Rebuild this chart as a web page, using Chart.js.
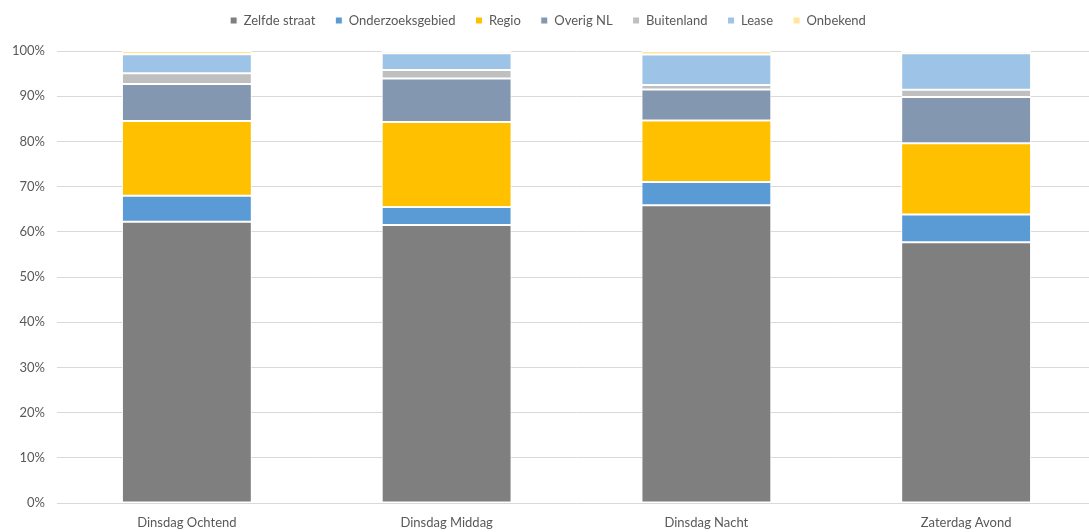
<!DOCTYPE html>
<html>
<head>
<meta charset="utf-8">
<script src="https://cdn.jsdelivr.net/npm/chart.js@4/dist/chart.umd.min.js"></script>
<style>
  html, body { margin: 0; padding: 0; overflow: hidden; background: #fff; }
  #wrap { width: 1096px; height: 532px; }
</style>
</head>
<body>
<div id="wrap"><canvas id="grafiek"></canvas></div>
<script>
// categorieen en aandelen (%) per herkomst
var momenten = ['Dinsdag Ochtend', 'Dinsdag Middag', 'Dinsdag Nacht', 'Zaterdag Avond'];
var zelfdeStraat = [62.2, 61.5, 65.9, 57.7];
var onderzoeksgebied = [5.8, 4.0, 5.1, 6.1];
var regio = [16.5, 18.8, 13.6, 15.8];
var overigNL = [8.2, 9.6, 6.9, 10.2];
var buitenland = [2.4, 1.9, 1.0, 1.6];
var lease = [4.2, 3.7, 6.7, 8.1];
var onbekend = [0.7, 0.5, 0.8, 0.5];
var yTicks = [0, 10, 20, 30, 40, 50, 60, 70, 80, 90, 100];

function reeks(label, data, kleur) {
  return {
    label: label,
    data: data,
    backgroundColor: kleur,
    borderColor: '#ffffff',
    borderWidth: 1,
    borderSkipped: false,
    categoryPercentage: 1,
    barPercentage: 0.5
  };
}

// extra ruimte onder de legenda
var legendaRuimte = {
  id: 'legendaRuimte',
  beforeInit: function (chart) {
    var origFit = chart.legend.fit;
    chart.legend.fit = function () {
      origFit.call(this);
      this.height += 14;
    };
  }
};

var tekst = '#595959';
var ctx = document.getElementById('grafiek').getContext('2d');
var chart = new Chart(ctx, {
  type: 'bar',
  data: {
    labels: momenten,
    datasets: [
      reeks('Zelfde straat', zelfdeStraat, '#7f7f7f'),
      reeks('Onderzoeksgebied', onderzoeksgebied, '#5b9bd5'),
      reeks('Regio', regio, '#ffc000'),
      reeks('Overig NL', overigNL, '#8497b0'),
      reeks('Buitenland', buitenland, '#bfbfbf'),
      reeks('Lease', lease, '#9dc3e6'),
      reeks('Onbekend', onbekend, '#ffe699')
    ]
  },
  plugins: [legendaRuimte],
  options: {
    responsive: true,
    maintainAspectRatio: false,
    animation: false,
    layout: { padding: { top: -6, left: 0, right: 0, bottom: 0 } },
    plugins: {
      tooltip: { enabled: false },
      legend: {
        position: 'top',
        labels: {
          boxWidth: 7,
          boxHeight: 7,
          padding: 20,
          color: tekst,
          font: { family: 'Lato', size: 13 }
        }
      }
    },
    scales: {
      x: {
        stacked: true,
        grid: { display: false },
        border: { display: false },
        ticks: { color: tekst, padding: 4, font: { family: 'Lato', size: 13 } },
        afterFit: function (s) { s.height = 29; }
      },
      y: {
        stacked: true,
        min: 0,
        max: 100,
        afterBuildTicks: function (s) { s.ticks = yTicks.map(function (v) { return { value: v }; }); },
        grid: { color: '#d9d9d9', drawTicks: false },
        border: { display: false },
        ticks: {
          color: tekst,
          padding: 12,
          font: { family: 'Lato', size: 13 },
          callback: function (v) { return v + '%'; }
        },
        afterFit: function (s) { s.width = 57; }
      }
    }
  }
});
</script>
</body>
</html>
